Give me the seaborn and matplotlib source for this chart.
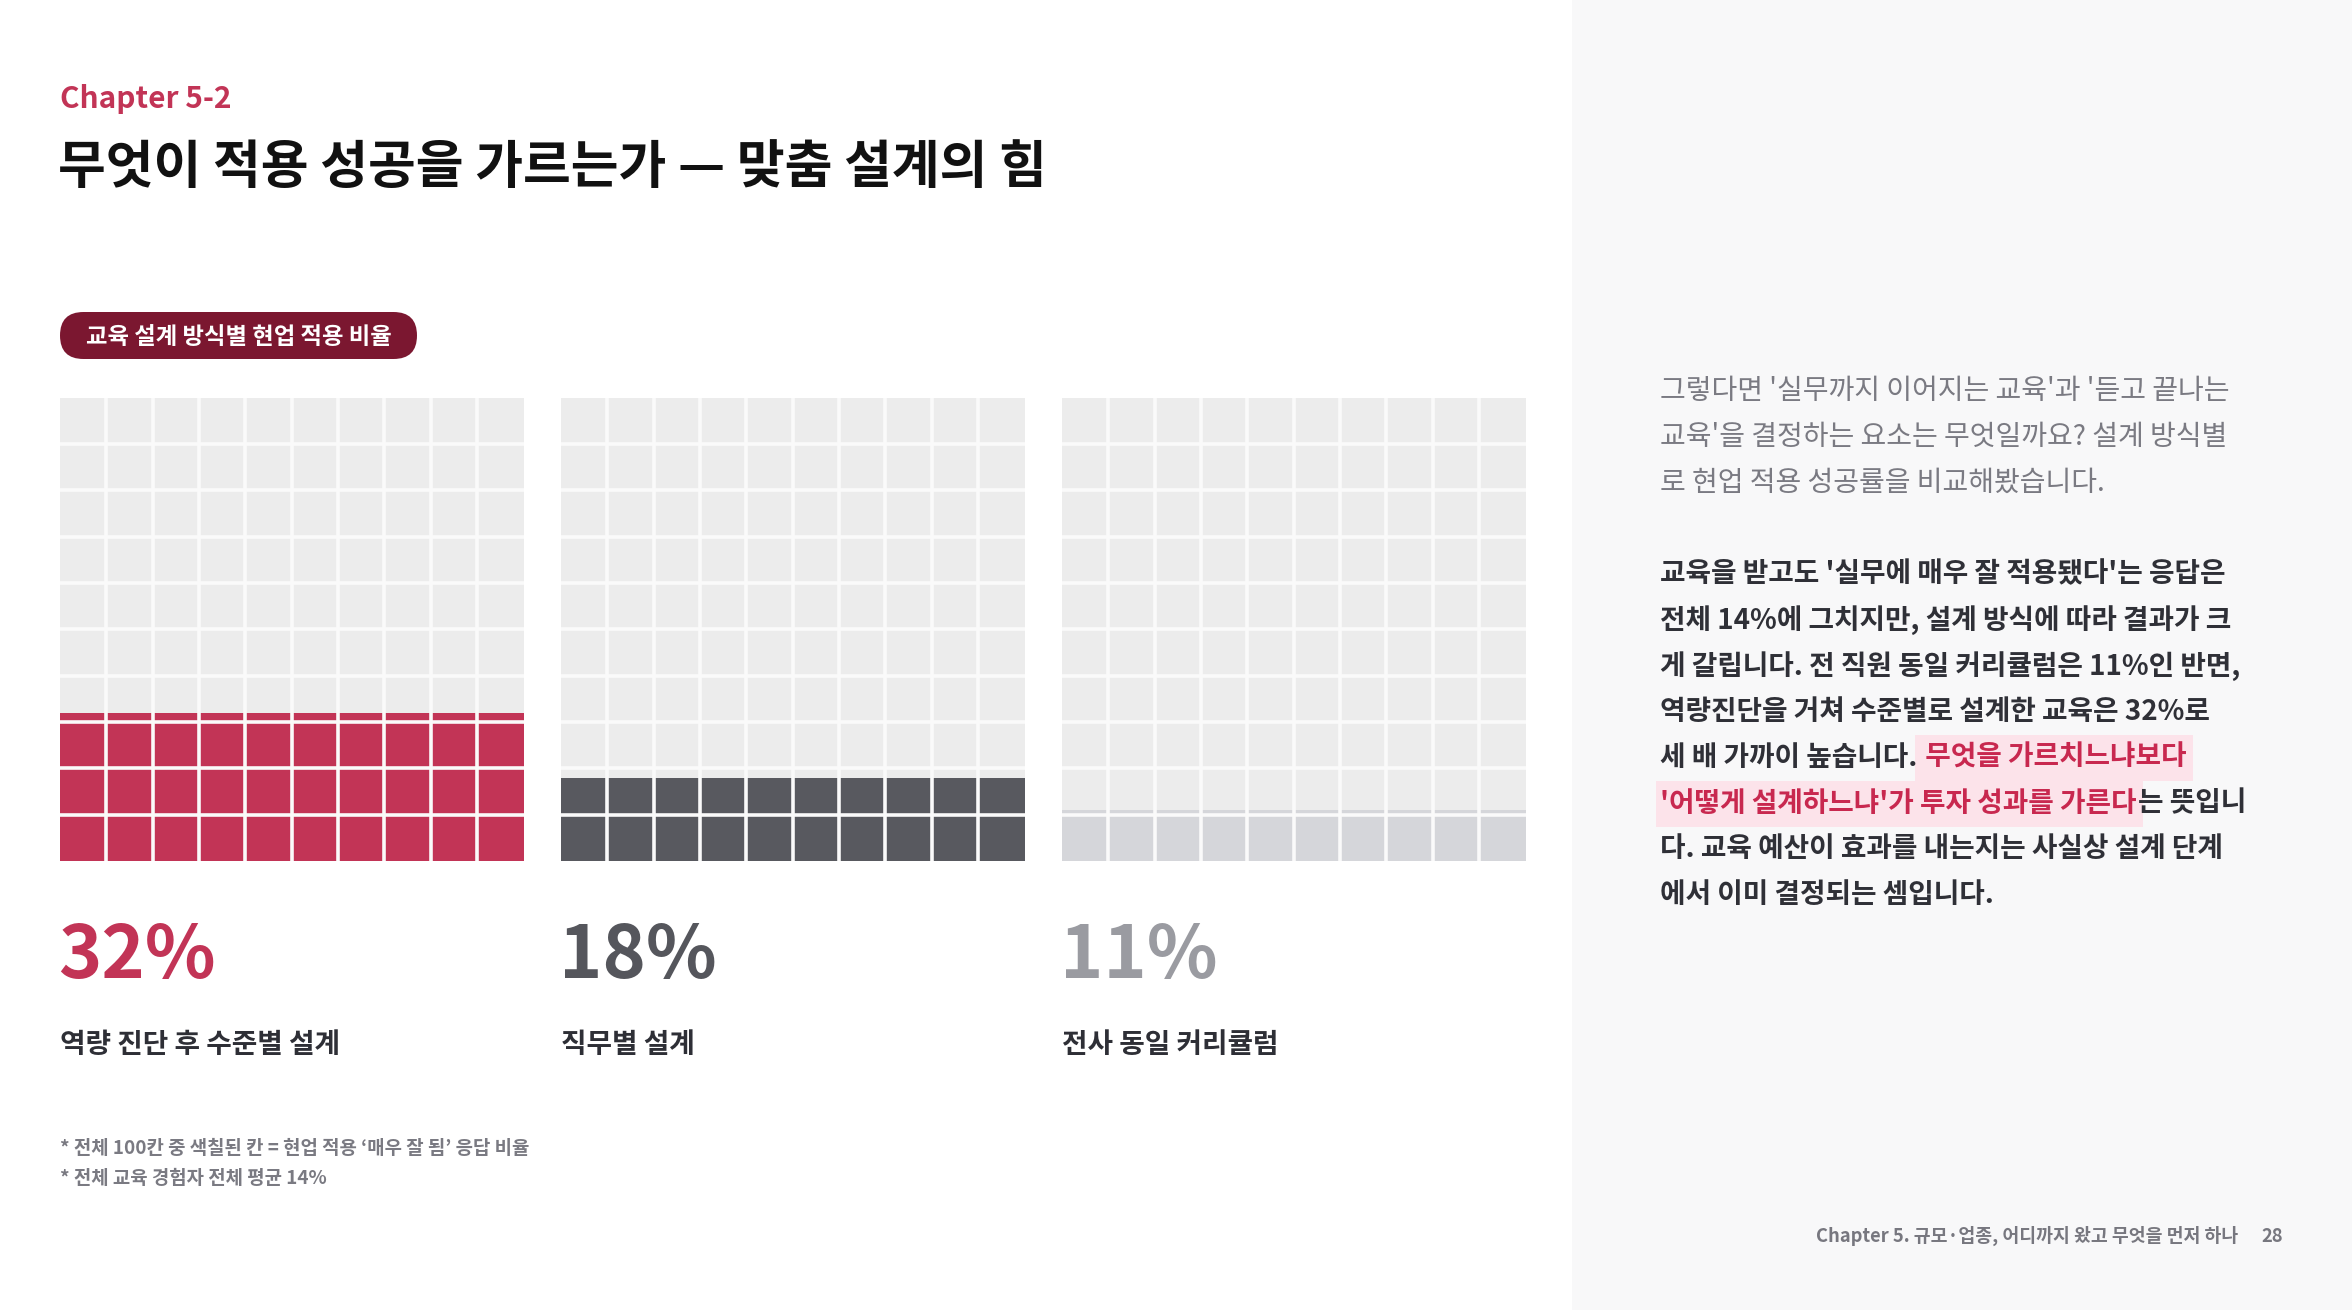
import matplotlib
matplotlib.use('Agg')
import matplotlib.pyplot as plt
import seaborn as sns
import pandas as pd
from matplotlib.patches import FancyBboxPatch, Rectangle

# ---------------- data ----------------
categories = ['역량 진단 후 수준별 설계', '직무별 설계', '전사 동일 커리큘럼']
values = [32, 18, 11]
value_labels = ['32%', '18%', '11%']
fill_colors = ['#C23456', '#58595F', '#D5D6DA']
label_colors = ['#C23456', '#55565C', '#9A9BA1']

chapter_tag = 'Chapter 5-2'
title = '무엇이 적용 성공을 가르는가 — 맞춤 설계의 힘'
badge = '교육 설계 방식별 현업 적용 비율'
footnotes = ['* 전체 100칸 중 색칠된 칸 = 현업 적용 ‘매우 잘 됨’ 응답 비율',
             '* 전체 교육 경험자 전체 평균 14%']
para1 = ["그렇다면 '실무까지 이어지는 교육'과 '듣고 끝나는",
         "교육'을 결정하는 요소는 무엇일까요? 설계 방식별",
         "로 현업 적용 성공률을 비교해봤습니다."]
# each line: list of (text, highlighted)
para2 = [[("교육을 받고도 '실무에 매우 잘 적용됐다'는 응답은", False)],
         [("전체 14%에 그치지만, 설계 방식에 따라 결과가 크", False)],
         [("게 갈립니다. 전 직원 동일 커리큘럼은 11%인 반면,", False)],
         [("역량진단을 거쳐 수준별로 설계한 교육은 32%로", False)],
         [("세 배 가까이 높습니다.", False), (" 무엇을 가르치느냐보다", True)],
         [("'어떻게 설계하느냐'가 투자 성과를 가른다", True), ("는 뜻입니", False)],
         [("다. 교육 예산이 효과를 내는지는 사실상 설계 단계", False)],
         [("에서 이미 결정되는 셈입니다.", False)]]
footer = 'Chapter 5. 규모·업종, 어디까지 왔고 무엇을 먼저 하나'
page = '28'

# ---------------- style ----------------
sns.set_theme(style='white')
plt.rcParams['font.family'] = ['Noto Sans CJK KR', 'DejaVu Sans']

W, H = 2352, 1310
fig = plt.figure(figsize=(W / 100, H / 100), dpi=100)
fig.patch.set_facecolor('white')

canvas = fig.add_axes([0, 0, 1, 1], zorder=0)
canvas.set_xlim(0, W)
canvas.set_ylim(H, 0)
canvas.axis('off')

# right panel background
canvas.add_patch(Rectangle((1572, 0), W - 1572, H, fc='#F8F8F9', ec='none', zorder=0))

# header
canvas.text(60, 99, chapter_tag, fontsize=21.5, fontweight='bold', color='#C23456',
            va='center', ha='left')
canvas.text(58, 168, title, fontsize=37.4, fontweight='bold', color='#111111',
            va='center', ha='left')

# badge
canvas.add_patch(FancyBboxPatch((60, 312), 357, 47,
                                boxstyle='round,pad=0,rounding_size=23.5',
                                fc='#7B1730', ec='none', zorder=1))
canvas.text(238.5, 337, badge, fontsize=16.8, fontweight='bold', color='white',
            va='center', ha='center', zorder=2)

# ---------------- waffles ----------------
grid_left = [60, 561, 1062]
grid_top = 397.5
size = 463.5
gap_color = '#FAFAFA'
for cat, val, fc, lx in zip(categories, values, fill_colors, grid_left):
    ax = fig.add_axes([lx / W, (H - grid_top - size) / H, size / W, size / H], zorder=2)
    ax.set_facecolor('#ECECEC')
    df = pd.DataFrame({'cat': [cat], 'val': [val]})
    sns.barplot(data=df, x='cat', y='val', color=fc, width=1.0, saturation=1,
                edgecolor='none', linewidth=0, ax=ax)
    ax.set_xlim(-0.5, 0.5)
    ax.set_ylim(0, 100)
    for k in range(1, 10):
        ax.axhline(k * 10, color=gap_color, lw=2.6, zorder=5)
        ax.axvline(-0.5 + k / 10, color=gap_color, lw=2.6, zorder=5)
    ax.set_xticks([])
    ax.set_yticks([])
    ax.set_xlabel('')
    ax.set_ylabel('')
    for s in ax.spines.values():
        s.set_visible(False)

# value labels and category labels
for cat, lab, lc, lx in zip(categories, value_labels, label_colors, grid_left):
    canvas.text(lx - 2, 957, lab, fontsize=53, fontweight='bold', color=lc,
                va='center', ha='left')
    canvas.text(lx, 1045, cat, fontsize=20, fontweight='bold', color='#2E2F36',
                va='center', ha='left')

# footnotes
for i, fn in enumerate(footnotes):
    canvas.text(60, 1149 + 30 * i, fn, fontsize=13.6, fontweight='bold', color='#7A7A82',
                va='center', ha='left')

# ---------------- right text ----------------
px = 1660
for i, line in enumerate(para1):
    canvas.text(px, 391 + 46 * i, line, fontsize=20.2, color='#7A7A82',
                va='center', ha='left')

fig.canvas.draw()
renderer = fig.canvas.get_renderer()
for i, runs in enumerate(para2):
    y = 574 + 45.9 * i
    x = px
    for text, hl in runs:
        color = '#C8284F' if hl else '#2F3037'
        t = canvas.text(x, y, text, fontsize=20, fontweight='bold', color=color,
                        va='center', ha='left', zorder=3)
        w = t.get_window_extent(renderer).width
        if hl:
            canvas.add_patch(Rectangle((x - 4, y - 23), w + 10, 46, fc='#FCE3EA',
                                       ec='none', zorder=2))
        x += w + 2

# footer
canvas.text(2238, 1236, footer, fontsize=13.2, fontweight='bold', color='#77777F',
            va='center', ha='right')
canvas.text(2283, 1236, page, fontsize=13.2, fontweight='bold', color='#77777F',
            va='center', ha='right')

fig.savefig('out.png', dpi=100, facecolor=fig.get_facecolor())
